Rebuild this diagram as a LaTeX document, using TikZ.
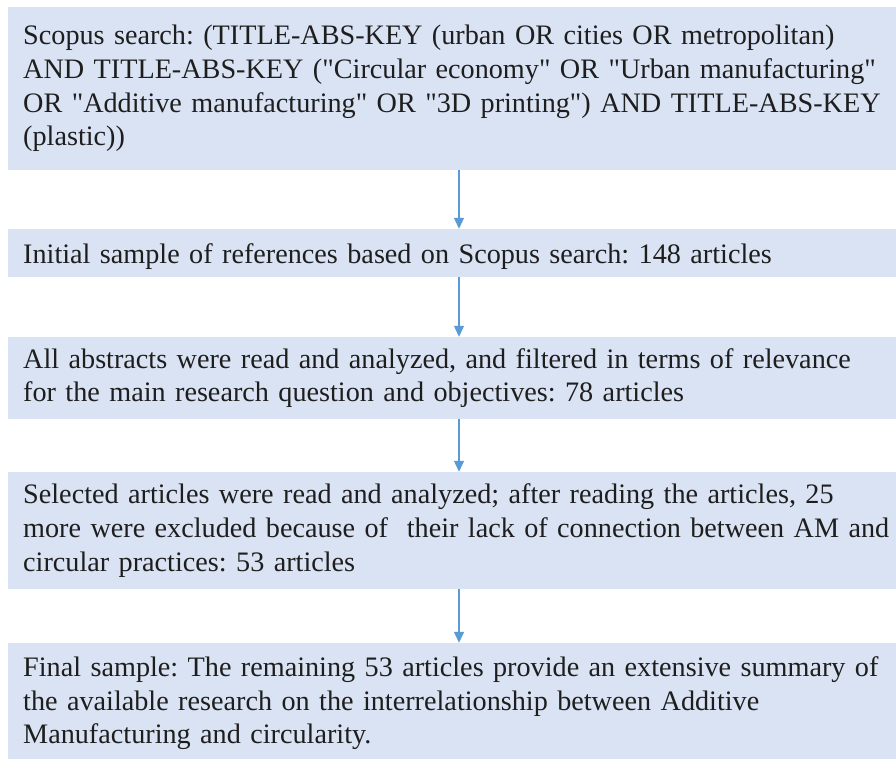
\documentclass[tikz,border=0pt]{standalone}
\usepackage{fontspec}
\setmainfont{Liberation Serif}[Ligatures=TeXOff]
\usetikzlibrary{arrows.meta,calc}
\definecolor{boxfill}{HTML}{DAE3F3}
\definecolor{arrowblue}{HTML}{5B9BD5}
\definecolor{txt}{HTML}{1E1E1E}
\newcommand\fullline[1]{\makebox[867pt][s]{#1}}
\newcommand\boxfont{\fontsize{28.2}{33.6}\selectfont\frenchspacing}
\begin{document}
\begin{tikzpicture}[x=1pt,y=1pt,
  flowbox/.style={fill=boxfill, draw=none, anchor=west, inner xsep=15pt, inner ysep=0pt,
    text width=880pt, align=left, text=txt, font=\boxfont},
  flowarrow/.style={draw=arrowblue, line width=1.3pt, -{Triangle[width=10pt,length=11pt]}}]
\useasboundingbox (0,0) rectangle (896,-759);
\fill[white] (0,0) rectangle (896,-759);
\node[flowbox, minimum height=163pt] (b1) at (8,-88.5)
  {Scopus search: (TITLE-ABS-KEY (urban OR cities OR metropolitan)\\
   AND TITLE-ABS-KEY ("Circular economy" OR "Urban manufacturing"\\
   OR "Additive manufacturing" OR "3D printing") AND TITLE-ABS-KEY\\
   (plastic))};
\node[flowbox, minimum height=48pt] (b2) at (8,-253)
  {\rule{0pt}{28pt}Initial sample of references based on Scopus search: 148 articles};
\node[flowbox, minimum height=82pt] (b3) at (8,-378)
  {All abstracts were read and analyzed, and filtered in terms of relevance\\
   for the main research question and objectives: 78 articles};
\node[flowbox, minimum height=117pt] (b4) at (8,-530.5)
  {Selected articles were read and analyzed; after reading the articles, 25\\
   \fullline{more were excluded because of~ their lack of connection between AM and}\\
   circular practices: 53 articles};
\node[flowbox, minimum height=121pt] (b5) at (8,-703.5)
  {\fullline{Final sample: The remaining 53 articles provide an extensive summary of}\\
   the available research on the interrelationship between Additive\\
   Manufacturing and circularity.};
\coordinate (ax) at (459,0);
\draw[flowarrow] (b1.south -| ax) -- (b2.north -| ax);
\draw[flowarrow] (b2.south -| ax) -- (b3.north -| ax);
\draw[flowarrow] (b3.south -| ax) -- (b4.north -| ax);
\draw[flowarrow] (b4.south -| ax) -- (b5.north -| ax);
\end{tikzpicture}
\end{document}
